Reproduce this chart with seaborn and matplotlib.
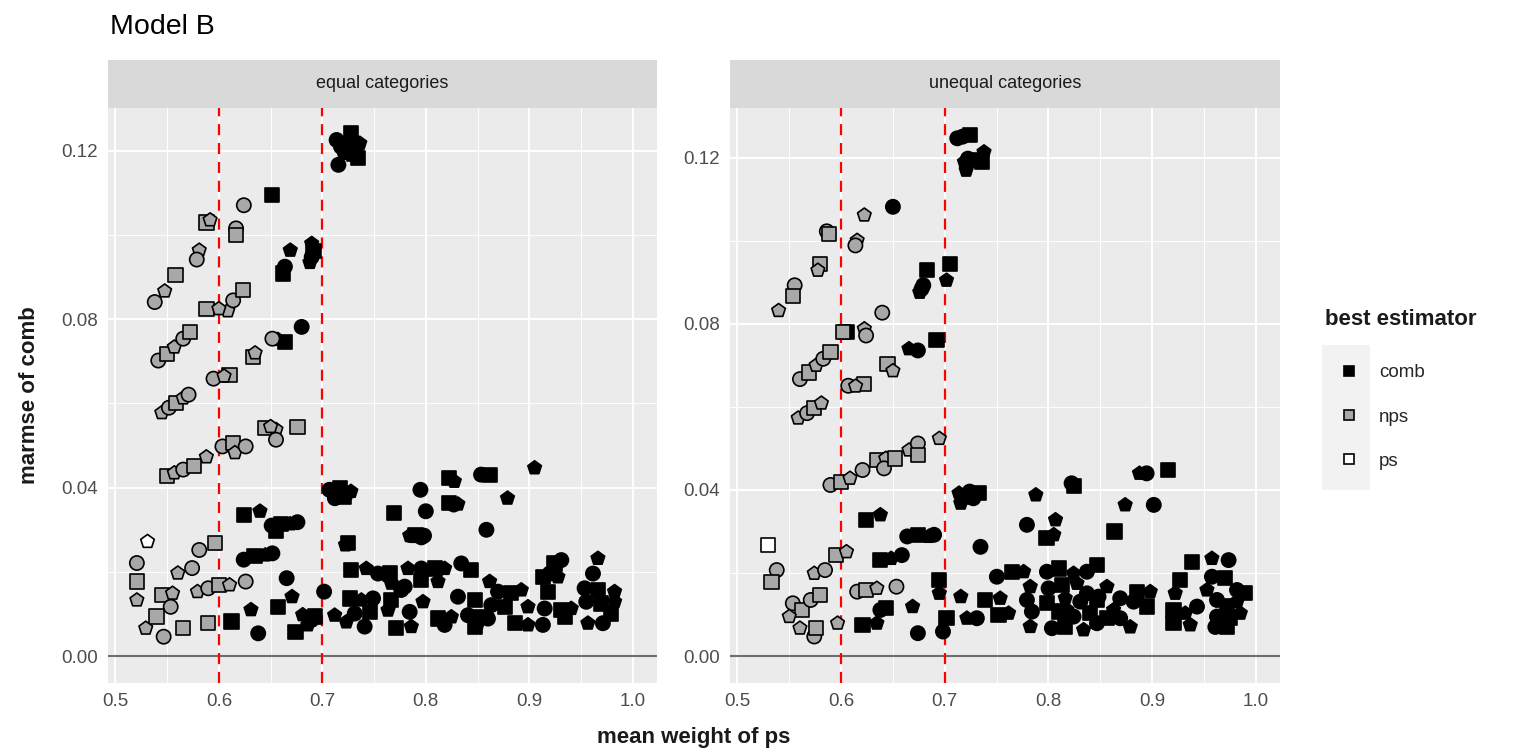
import matplotlib
matplotlib.use("Agg")
import matplotlib.pyplot as plt
import seaborn as sns
import numpy as np
import pandas as pd
from matplotlib.lines import Line2D
from matplotlib.patches import Rectangle

sns.set_theme(style="white")
plt.rcParams["font.family"] = ["Liberation Sans", "DejaVu Sans"]

# ---- data: equal categories ----
eq_comb_x = [0.7138, 0.7276, 0.7362, 0.7240, 0.7310, 0.7207, 0.7155, 0.7345, 0.7276, 0.7180,
             0.6517, 0.6690, 0.6638, 0.6620, 0.6897, 0.6897, 0.6914, 0.6880, 0.6800, 0.6638, 0.6569,
             0.7069, 0.7172, 0.7241, 0.7121, 0.7207, 0.7276,
             0.7948, 0.8224, 0.8276, 0.8534, 0.8620, 0.9052, 0.8270, 0.8224, 0.8310, 0.8000, 0.7690,
             0.8790, 0.8586, 0.7900, 0.7845, 0.7983,
             0.6240, 0.6397, 0.6510, 0.6603, 0.6690, 0.6759, 0.6552, 0.7224,
             0.6240, 0.6345, 0.6448, 0.6517,
             0.6121, 0.6310, 0.6380, 0.6570, 0.6707, 0.6655, 0.6741, 0.6810, 0.6897, 0.6930, 0.6860, 0.7017,
             0.7248, 0.7892, 0.7957,
             0.7280, 0.7425, 0.7538, 0.7651, 0.7828, 0.7957, 0.8086, 0.8182, 0.8343, 0.8440,
             0.7667, 0.7796, 0.7957, 0.8118, 0.7763,
             0.7264, 0.7377, 0.7490, 0.7667, 0.7973, 0.8311, 0.8472,
             0.7119, 0.7313, 0.7458, 0.7635, 0.7844, 0.8118, 0.8247, 0.8408, 0.8504,
             0.7232, 0.7409, 0.7715, 0.7860, 0.8182, 0.8472, 0.6926,
             0.9310, 0.9245, 0.9664, 0.9197, 0.9132, 0.9277, 0.9616, 0.9181, 0.8617,
             0.8698, 0.8826, 0.8923, 0.9535, 0.9664, 0.9825,
             0.8633, 0.8762, 0.8988, 0.9149, 0.9310, 0.9406, 0.9551, 0.9696, 0.9825,
             0.8601, 0.8859, 0.8988, 0.9132, 0.9342, 0.9567, 0.9712, 0.9793, 0.8504]
eq_comb_y = [0.1226, 0.1242, 0.1218, 0.1214, 0.1194, 0.1194, 0.1167, 0.1183, 0.1202, 0.1210,
             0.1095, 0.0964, 0.0925, 0.0909, 0.0980, 0.0948, 0.0962, 0.0935, 0.0782, 0.0746, 0.0752,
             0.0395, 0.0399, 0.0387, 0.0375, 0.0379, 0.0391,
             0.0395, 0.0423, 0.0415, 0.0431, 0.0431, 0.0447, 0.0360, 0.0363, 0.0361, 0.0344, 0.0340,
             0.0375, 0.0300, 0.0288, 0.0286, 0.0286,
             0.0336, 0.0344, 0.0310, 0.0314, 0.0314, 0.0318, 0.0298, 0.0264,
             0.0229, 0.0237, 0.0240, 0.0244,
             0.0082, 0.0110, 0.0054, 0.0117, 0.0141, 0.0185, 0.0058, 0.0098, 0.0086, 0.0094, 0.0074, 0.0153,
             0.0268, 0.0284, 0.0282,
             0.0204, 0.0208, 0.0196, 0.0196, 0.0208, 0.0208, 0.0208, 0.0208, 0.0220, 0.0204,
             0.0173, 0.0165, 0.0181, 0.0177, 0.0157,
             0.0137, 0.0133, 0.0137, 0.0133, 0.0129, 0.0141, 0.0133,
             0.0097, 0.0101, 0.0105, 0.0109, 0.0105, 0.0089, 0.0093, 0.0097, 0.0093,
             0.0081, 0.0070, 0.0066, 0.0070, 0.0074, 0.0070, 0.0094,
             0.0228, 0.0220, 0.0232, 0.0196, 0.0188, 0.0188, 0.0196, 0.0153, 0.0177,
             0.0153, 0.0149, 0.0157, 0.0161, 0.0157, 0.0153,
             0.0121, 0.0117, 0.0117, 0.0113, 0.0109, 0.0113, 0.0129, 0.0125, 0.0129,
             0.0089, 0.0078, 0.0074, 0.0074, 0.0093, 0.0078, 0.0078, 0.0101, 0.0078]
eq_nps_x = [0.6241, 0.5880, 0.5915, 0.6166, 0.6166, 0.5810, 0.5786, 0.5580, 0.5476, 0.5380,
            0.5880, 0.6086, 0.6138, 0.6234, 0.6000,
            0.6517, 0.6328, 0.6350, 0.5948, 0.6103, 0.6050,
            0.5414, 0.5500, 0.5569, 0.5655, 0.5724,
            0.5448, 0.5517, 0.5586, 0.5655, 0.5707,
            0.5500, 0.5569, 0.5655, 0.5759, 0.5879,
            0.6034, 0.6138, 0.6155, 0.6259,
            0.6448, 0.6552, 0.6552, 0.6759, 0.6500,
            0.5207, 0.5207, 0.5207, 0.5810, 0.5966, 0.5603, 0.5741, 0.5448, 0.5552, 0.5534,
            0.5397, 0.5293, 0.5466, 0.5655, 0.5793, 0.5897, 0.6000, 0.6103, 0.6259, 0.5897]
eq_nps_y = [0.1071, 0.1030, 0.1036, 0.1016, 0.1000, 0.0964, 0.0942, 0.0905, 0.0867, 0.0841,
            0.0825, 0.0820, 0.0845, 0.0870, 0.0825,
            0.0754, 0.0710, 0.0720, 0.0659, 0.0667, 0.0665,
            0.0702, 0.0718, 0.0734, 0.0754, 0.0770,
            0.0578, 0.0590, 0.0602, 0.0613, 0.0621,
            0.0427, 0.0435, 0.0443, 0.0452, 0.0473,
            0.0498, 0.0506, 0.0483, 0.0498,
            0.0542, 0.0538, 0.0514, 0.0545, 0.0545,
            0.0221, 0.0177, 0.0133, 0.0252, 0.0268, 0.0197, 0.0209, 0.0145, 0.0149, 0.0117,
            0.0094, 0.0066, 0.0046, 0.0066, 0.0153, 0.0161, 0.0169, 0.0169, 0.0177, 0.0078]
eq_ps_x = [0.5310]
eq_ps_y = [0.0272]

# ---- data: unequal categories ----
un_comb_x = [0.7121, 0.7241, 0.7379, 0.7224, 0.7362, 0.7207, 0.7172, 0.7310, 0.7190,
             0.6500, 0.6828, 0.6759, 0.6776, 0.7052, 0.7017, 0.6793,
             0.6921, 0.6655, 0.6741, 0.6052,
             0.7138, 0.7241, 0.7328, 0.7155, 0.7276, 0.7190,
             0.7879, 0.8224, 0.8250, 0.8879, 0.8948, 0.9155, 0.8741, 0.9017, 0.8638, 0.8069,
             0.7793, 0.7983, 0.8052, 0.7345,
             0.6241, 0.6379, 0.6638, 0.6741, 0.6845, 0.6897,
             0.6379, 0.6483, 0.6586,
             0.6207, 0.6345, 0.6379, 0.6431, 0.6690, 0.6741, 0.6948, 0.6948, 0.6983, 0.7017, 0.7155,
             0.7503, 0.7648, 0.7761, 0.7986, 0.8099, 0.8243, 0.8372, 0.8469,
             0.7825, 0.8002, 0.8131, 0.8276, 0.8372,
             0.7390, 0.7535, 0.7793, 0.7986, 0.8163, 0.8308, 0.8469,
             0.7214, 0.7310, 0.7519, 0.7616, 0.7841, 0.8099, 0.8179, 0.8243, 0.8404,
             0.7825, 0.8034, 0.8163, 0.8340, 0.8469,
             0.9385, 0.9578, 0.9739,
             0.9273, 0.9224, 0.9578, 0.9707, 0.9530, 0.9820, 0.9900,
             0.8565, 0.8693, 0.8854, 0.8983, 0.8822, 0.8950, 0.8629,
             0.8484, 0.8565, 0.8790, 0.8693,
             0.9208, 0.9321, 0.9434, 0.9208, 0.9369,
             0.9627, 0.9723, 0.9820, 0.9627, 0.9755, 0.9852, 0.9611, 0.9723]
un_comb_y = [0.1247, 0.1255, 0.1214, 0.1198, 0.1190, 0.1170, 0.1251, 0.1194, 0.1190,
             0.1082, 0.0929, 0.0876, 0.0884, 0.0945, 0.0905, 0.0893,
             0.0761, 0.0740, 0.0736, 0.0780,
             0.0392, 0.0396, 0.0392, 0.0368, 0.0380, 0.0384,
             0.0388, 0.0416, 0.0410, 0.0440, 0.0440, 0.0448, 0.0364, 0.0364, 0.0300, 0.0328,
             0.0316, 0.0284, 0.0292, 0.0263,
             0.0328, 0.0340, 0.0288, 0.0292, 0.0288, 0.0292,
             0.0231, 0.0235, 0.0243,
             0.0075, 0.0079, 0.0111, 0.0115, 0.0119, 0.0055, 0.0183, 0.0151, 0.0059, 0.0091, 0.0143,
             0.0191, 0.0203, 0.0203, 0.0203, 0.0211, 0.0199, 0.0203, 0.0219,
             0.0167, 0.0163, 0.0171, 0.0175, 0.0151,
             0.0135, 0.0139, 0.0135, 0.0127, 0.0139, 0.0131, 0.0135,
             0.0091, 0.0091, 0.0099, 0.0103, 0.0107, 0.0107, 0.0111, 0.0095, 0.0103,
             0.0071, 0.0067, 0.0071, 0.0063, 0.0079,
             0.0227, 0.0235, 0.0231,
             0.0183, 0.0151, 0.0191, 0.0187, 0.0159, 0.0159, 0.0151,
             0.0167, 0.0139, 0.0155, 0.0155, 0.0131, 0.0119, 0.0111,
             0.0143, 0.0091, 0.0070, 0.0091,
             0.0111, 0.0103, 0.0119, 0.0079, 0.0075,
             0.0135, 0.0119, 0.0131, 0.0095, 0.0091, 0.0103, 0.0070, 0.0070]
un_nps_x = [0.6224, 0.5862, 0.5880, 0.6155, 0.6138, 0.5793, 0.5776, 0.5552, 0.5534, 0.5397,
            0.6397, 0.6017, 0.6224, 0.6241, 0.6448, 0.6500, 0.6069, 0.6224, 0.6140,
            0.5603, 0.5690, 0.5759, 0.5828, 0.5897,
            0.5586, 0.5672, 0.5741, 0.5810,
            0.5897, 0.6000, 0.6086, 0.6207, 0.6345, 0.6431, 0.6414, 0.6517, 0.6655, 0.6741, 0.6741, 0.6948,
            0.5379, 0.5328, 0.5741, 0.5845, 0.5948, 0.6052,
            0.5534, 0.5621, 0.5500, 0.5707, 0.5793, 0.5603, 0.5741, 0.5759, 0.5966,
            0.6155, 0.6241, 0.6345, 0.6534]
un_nps_y = [0.1062, 0.1023, 0.1017, 0.1001, 0.0989, 0.0945, 0.0929, 0.0893, 0.0868, 0.0832,
            0.0827, 0.0780, 0.0788, 0.0772, 0.0703, 0.0687, 0.0651, 0.0655, 0.0650,
            0.0667, 0.0683, 0.0700, 0.0716, 0.0732,
            0.0573, 0.0585, 0.0597, 0.0609,
            0.0412, 0.0420, 0.0428, 0.0448, 0.0472, 0.0476, 0.0452, 0.0476, 0.0496, 0.0512, 0.0484, 0.0524,
            0.0207, 0.0179, 0.0199, 0.0207, 0.0243, 0.0251,
            0.0127, 0.0111, 0.0095, 0.0135, 0.0147, 0.0067, 0.0047, 0.0067, 0.0079,
            0.0155, 0.0159, 0.0163, 0.0167]
un_ps_x = [0.5293]
un_ps_y = [0.0267]

panels = ["equal categories", "unequal categories"]
estimators = ["comb", "nps", "ps"]
fill_colors = {"comb": "black", "nps": "#A8A8A8", "ps": "white"}


def make_frame(comb_x, comb_y, nps_x, nps_y, ps_x, ps_y):
    parts = []
    for name, xs, ys in [("comb", comb_x, comb_y), ("nps", nps_x, nps_y), ("ps", ps_x, ps_y)]:
        parts.append(pd.DataFrame({"mean_weight": xs, "marmse": ys, "best": name}))
    df = pd.concat(parts, ignore_index=True)
    df["shape"] = np.arange(len(df)) % 3  # mixed point shapes, as in the source
    return df


frames = [make_frame(eq_comb_x, eq_comb_y, eq_nps_x, eq_nps_y, eq_ps_x, eq_ps_y),
          make_frame(un_comb_x, un_comb_y, un_nps_x, un_nps_y, un_ps_x, un_ps_y)]

W, H = 1515, 752
fig = plt.figure(figsize=(W / 100, H / 100), dpi=100)

panel_px = [(108, 657), (730, 1280)]
ylims = [(-0.0064, 0.1302), (-0.0065, 0.1320)]
top_px, bot_px, strip_px = 108, 683, 60

for i, (x0, x1) in enumerate(panel_px):
    ax = fig.add_axes([x0 / W, 1 - bot_px / H, (x1 - x0) / W, (bot_px - top_px) / H])
    ax.set_facecolor("#EBEBEB")
    ax.set_xlim(0.4928, 1.0235)
    ax.set_ylim(*ylims[i])
    ax.set_xticks([0.5, 0.6, 0.7, 0.8, 0.9, 1.0])
    ax.set_xticklabels(["0.5", "0.6", "0.7", "0.8", "0.9", "1.0"])
    ax.set_xticks([0.55, 0.65, 0.75, 0.85, 0.95], minor=True)
    ax.set_yticks([0.0, 0.04, 0.08, 0.12])
    ax.set_yticklabels(["0.00", "0.04", "0.08", "0.12"])
    ax.set_yticks([0.02, 0.06, 0.10], minor=True)
    ax.grid(which="major", color="white", lw=1.4)
    ax.grid(which="minor", color="white", lw=0.7)
    ax.set_axisbelow(True)
    for s in ax.spines.values():
        s.set_visible(False)
    ax.tick_params(which="major", length=4, width=1.1, color="#333333",
                   labelsize=13.5, labelcolor="#4D4D4D", pad=3)
    ax.tick_params(which="minor", length=0)

    ax.axhline(0, color="#6E6E6E", lw=1.5, zorder=1)
    for v in (0.6, 0.7):
        ax.axvline(v, color="red", lw=1.6, ls=(0, (5, 3.5)), zorder=1.5)

    sns.scatterplot(data=frames[i], x="mean_weight", y="marmse", hue="best",
                    palette=fill_colors, hue_order=estimators,
                    style="shape", markers={0: "o", 1: "s", 2: "p"},
                    s=105, edgecolor="black", linewidth=1.2, legend=False,
                    ax=ax, zorder=3)
    ax.set_xlabel("")
    ax.set_ylabel("")

    sax = fig.add_axes([x0 / W, 1 - top_px / H, (x1 - x0) / W, (top_px - strip_px) / H])
    sax.set_facecolor("#D9D9D9")
    sax.set_xticks([])
    sax.set_yticks([])
    for s in sax.spines.values():
        s.set_visible(False)
    sax.text(0.5, 0.5, panels[i], ha="center", va="center", fontsize=13, color="#1A1A1A")

fig.text(110 / W, 1 - 27 / H, "Model B", fontsize=20.5, ha="left", va="center", color="black")
fig.text(694 / W, 1 - 737 / H, "mean weight of ps", fontsize=16, fontweight="bold",
         ha="center", va="center", color="#1A1A1A")
fig.text(30 / W, 1 - 395 / H, "marmse of comb", fontsize=16, fontweight="bold",
         rotation=90, ha="center", va="center", color="#1A1A1A")

# legend
fig.patches.append(Rectangle((1322 / W, 1 - 490 / H), 48 / W, 145 / H,
                             transform=fig.transFigure, facecolor="#F2F2F2",
                             edgecolor="none", zorder=0))
fig.text(1325 / W, 1 - 320 / H, "best estimator", fontsize=16, fontweight="bold",
         ha="left", va="center", color="#1A1A1A")
handles = [Line2D([], [], ls="", marker="s", markersize=7, markerfacecolor=fill_colors[e],
                  markeredgecolor="black", markeredgewidth=1.2) for e in estimators]
fig.legend(handles, estimators, loc="center left",
           bbox_to_anchor=(1330 / W, 1 - 417 / H), frameon=False, fontsize=13.5,
           handlelength=1.0, handletextpad=1.1, labelspacing=1.45, borderpad=0)

fig.savefig("out.png", dpi=100)
